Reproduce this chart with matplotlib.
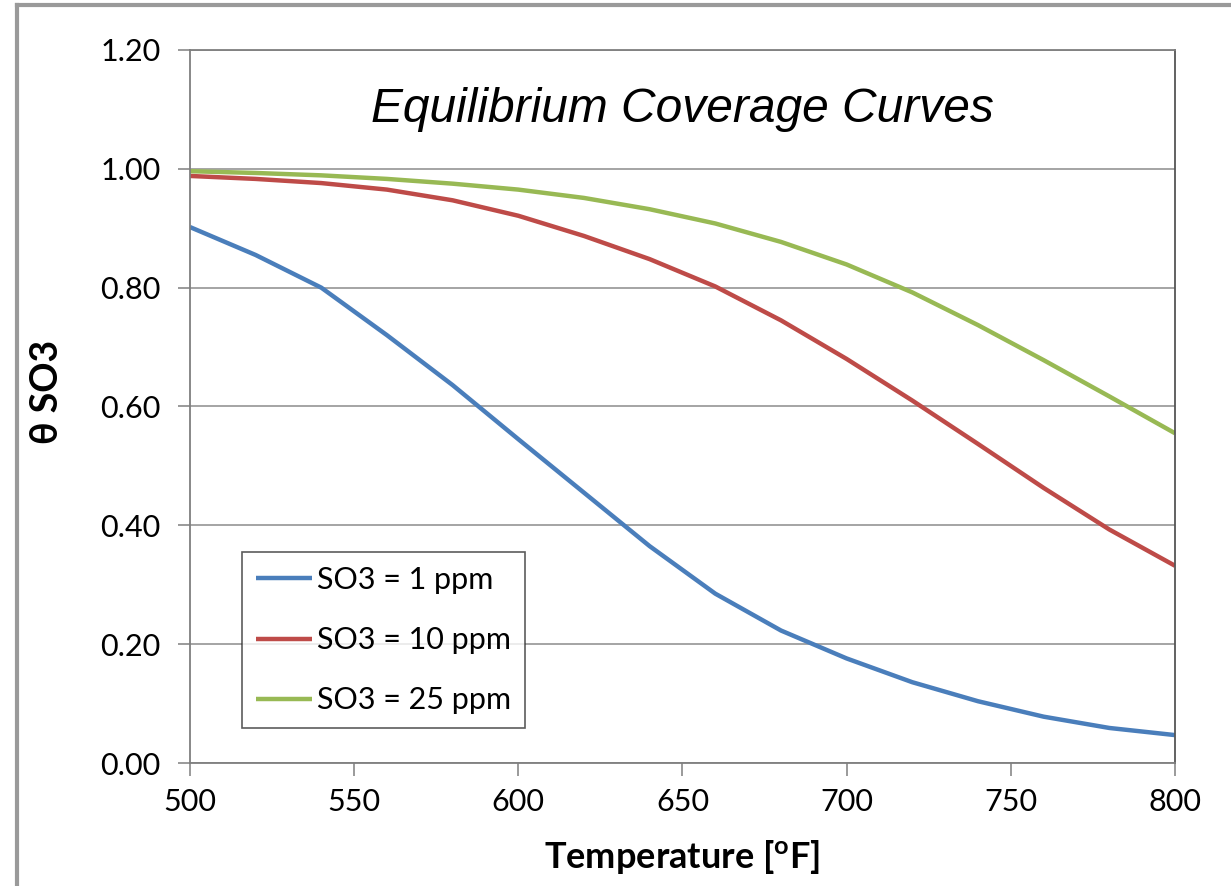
import numpy as np
import matplotlib
matplotlib.use("Agg")
import matplotlib.pyplot as plt

# temperature [F]
temps = [500, 520, 540, 560, 580, 600, 620, 640, 660, 680, 700, 720, 740, 760, 780, 800]

# equilibrium SO3 coverage
theta_1ppm = [0.902, 0.855, 0.800, 0.720, 0.636, 0.545, 0.455, 0.365, 0.285, 0.223,
              0.176, 0.136, 0.104, 0.078, 0.059, 0.047]
theta_10ppm = [0.988, 0.983, 0.976, 0.965, 0.947, 0.921, 0.887, 0.848, 0.802, 0.745,
               0.680, 0.610, 0.537, 0.463, 0.393, 0.332]
theta_25ppm = [0.996, 0.993, 0.989, 0.983, 0.975, 0.965, 0.951, 0.932, 0.908, 0.877,
               0.839, 0.792, 0.737, 0.678, 0.617, 0.555]

labels = ["SO3 = 1 ppm", "SO3 = 10 ppm", "SO3 = 25 ppm"]
colors = ["#4A7EBB", "#BE4B48", "#98B954"]

x_ticks = [500, 550, 600, 650, 700, 750, 800]
y_ticks = [0.0, 0.2, 0.4, 0.6, 0.8, 1.0, 1.2]

plt.rcParams['font.family'] = ['Lato', 'DejaVu Sans']

fig = plt.figure(figsize=(12.31, 8.86), dpi=100)
ax = fig.add_axes([0.1543, 0.1388, 0.8002, 0.8048])

for ys, lab, c in zip([theta_1ppm, theta_10ppm, theta_25ppm], labels, colors):
    ax.plot(temps, ys, color=c, lw=3.2, label=lab, solid_capstyle='butt',
            solid_joinstyle='round')

ax.set_xlim(500, 800)
ax.set_ylim(0, 1.2)
ax.set_xticks(x_ticks)
ax.set_yticks(y_ticks)
ax.set_yticklabels(["%.2f" % v for v in y_ticks])
ax.grid(axis='y', color='#8c8c8c', lw=1.1)
ax.set_axisbelow(True)
for s in ax.spines.values():
    s.set_color('#7f7f7f')
    s.set_linewidth(1.3)
ax.spines['right'].set_color('#555555')
ax.tick_params(axis='both', direction='out', length=9, width=1.1, color='#7f7f7f',
               labelsize=22, labelcolor='black')
ax.tick_params(axis='y', pad=12)
ax.tick_params(axis='x', pad=9)

ax.set_xlabel("Temperature [$\\mathregular{^o}$F]", fontsize=26, fontweight='bold', labelpad=16)
ax.set_ylabel("θ SO3", fontsize=27, fontweight='bold')
ax.yaxis.set_label_coords(-0.128, 0.52)

ax.text(0.5, 0.917, "Equilibrium Coverage Curves", transform=ax.transAxes,
        ha='center', va='center', fontsize=34.5, style='italic',
        family=['Liberation Sans', 'DejaVu Sans'])

leg = ax.legend(loc='lower left', bbox_to_anchor=(0.053, 0.049), fontsize=22,
                frameon=True, fancybox=False, edgecolor='#333333',
                handlelength=1.85, handletextpad=0.15, labelspacing=1.05,
                borderpad=0.45, borderaxespad=0)
leg.get_frame().set_linewidth(1.2)

# outer frame of the pasted chart
fig.add_artist(plt.Line2D([0.0138, 0.0138], [0.0, 0.994], color='#9a9a9a', lw=3,
                          transform=fig.transFigure))
fig.add_artist(plt.Line2D([0.0138, 1.0], [0.994, 0.994], color='#9a9a9a', lw=3,
                          transform=fig.transFigure))

fig.savefig("out.png", dpi=100)
